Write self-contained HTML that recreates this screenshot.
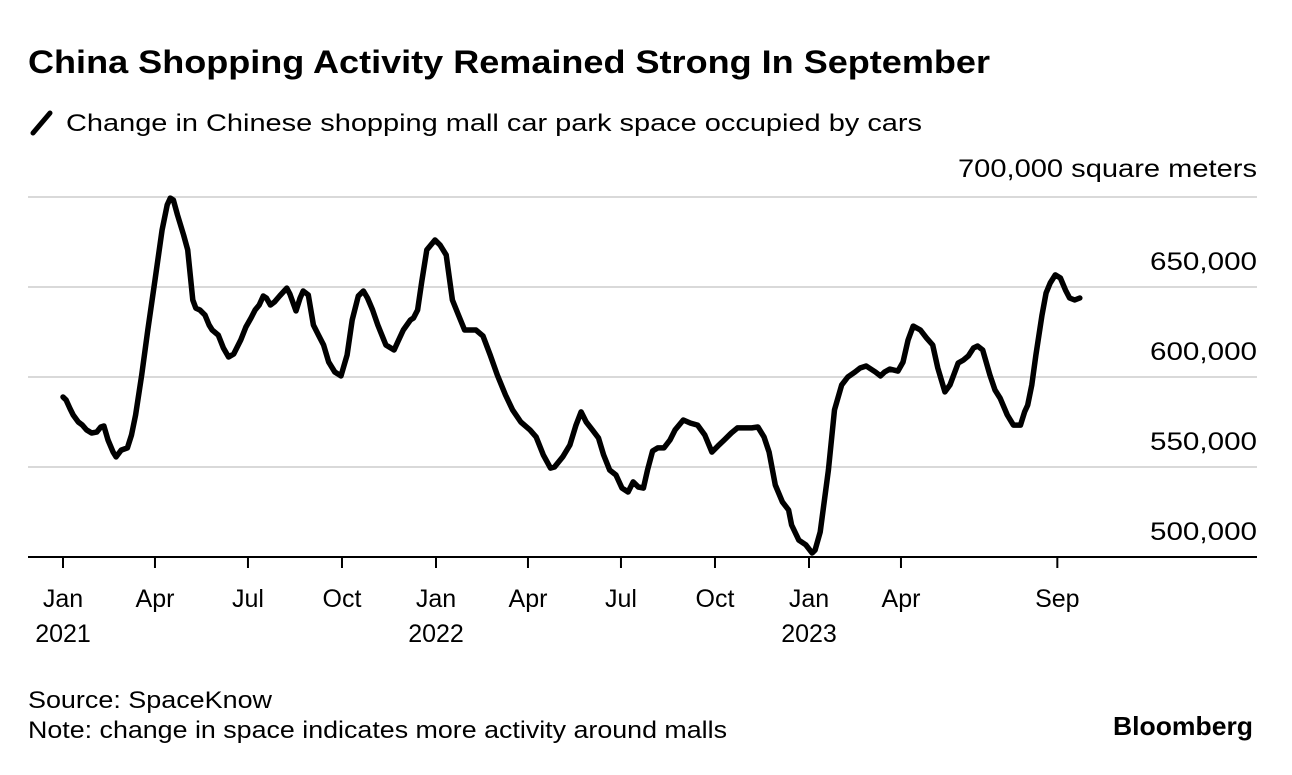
<!DOCTYPE html>
<html><head><meta charset="utf-8"><style>
body{margin:0;background:#fff;width:1292px;height:770px;overflow:hidden;font-family:"Liberation Sans",sans-serif;color:#000}
</style></head><body>
<svg width="1292" height="770" font-family="Liberation Sans, sans-serif">
<text x="28" y="73" font-size="32" font-weight="bold" textLength="962" lengthAdjust="spacingAndGlyphs">China Shopping Activity Remained Strong In September</text>
<line x1="33" y1="133" x2="50" y2="113" stroke="#000" stroke-width="5" stroke-linecap="round"/>
<text x="66" y="131" font-size="24" textLength="856" lengthAdjust="spacingAndGlyphs">Change in Chinese shopping mall car park space occupied by cars</text>
<g id="grid"></g><g id="axis"></g>
<path id="line" fill="none" stroke="#000" stroke-width="5.5" stroke-linejoin="round" stroke-linecap="round"/>
<text x="28" y="708" font-size="24" textLength="244" lengthAdjust="spacingAndGlyphs">Source: SpaceKnow</text>
<text x="28" y="738" font-size="24" textLength="699" lengthAdjust="spacingAndGlyphs">Note: change in space indicates more activity around malls</text>
<text x="1113" y="735" font-size="26" font-weight="bold" textLength="140" lengthAdjust="spacingAndGlyphs">Bloomberg</text>
</svg>
<script>
const days=[0,3,7,10,15,19,23,28,33,37,40,44,49,52,57,63,67,71,77,83,90,97,102,105,108,112,118,122,127,130,134,139,143,146,152,157,162,167,174,179,184,188,192,196,199,203,207,212,219,222,228,232,235,240,245,250,255,260,266,272,278,283,289,294,298,303,308,316,324,328,333,340,343,347,351,356,364,369,375,381,387,393,404,411,418,425,433,440,448,457,463,470,477,481,489,496,502,507,512,518,524,529,535,541,547,553,558,563,568,572,577,582,588,594,599,607,614,621,628,635,641,647,654,660,667,674,680,686,691,697,704,710,713,720,727,733,736,741,749,755,762,768,775,780,786,795,800,804,809,817,822,827,832,839,845,851,856,863,868,876,881,886,891,895,900,907,912,917,924,930,937,941,944,948,952,958,962,966,971,976,981,985,990,995];
const values=[588.9,587.2,582.2,578.9,575,573.3,570.6,568.9,569.4,572.2,572.8,565,558.3,555.6,559.4,560.6,567.8,578.9,601.1,626.1,653.9,681.7,695.6,699.4,698.3,690,678.9,670.6,642.8,638.3,637.2,634.4,628.9,626.1,623.3,616.1,611.1,612.8,620.6,627.8,632.8,637.2,640,645,643.9,640,641.7,645,649.4,646.1,636.7,643.9,647.8,645.6,628.9,623.3,617.8,608.3,602.8,600.6,612.2,631.7,645,647.8,643.9,637.2,628.9,617.8,615,620,626.1,631.7,632.8,637.2,652.8,670.6,676.1,673.3,667.8,642.8,634.4,626.1,626.1,622.8,612.2,601.1,590,581.7,575,570.6,566.7,556.7,549.4,550,555.6,562.2,573.3,580.6,575,570.6,566.1,556.7,548.3,545.6,538.3,536.1,541.7,538.9,538.3,548.3,558.9,560.6,560.6,565,570.6,576.1,574.4,573.3,567.8,558.3,561.7,565,568.9,571.7,571.7,571.7,572.2,566.7,558.3,540,530.6,526.1,517.8,509.4,506.7,502.2,503.9,513.9,548.3,581.7,595.6,600,602.8,605,606.1,602.8,600.6,602.8,604.4,603.3,608.3,620.6,628.3,626.1,621.7,617.8,605,591.7,595.6,607.8,609.4,611.7,616.1,617.2,615,601.1,592.8,588.3,578.9,573.3,573.3,580.6,584.4,595.6,612.2,634.4,646.7,652.2,656.7,655,648.3,643.9,642.8,643.9];
const yTicks=[700,650,600,550,500];
const yTickLabels=["700,000 square meters","650,000","600,000","550,000","500,000"];
const yLabelWidths=[299,107,107,107,107];
const xTickDays=[0,90,181,273,365,455,546,638,730,820,973];
const xTickLabels=["Jan","Apr","Jul","Oct","Jan","Apr","Jul","Oct","Jan","Apr","Sep"];
const xYearLabels=["2021","","","","2022","","","","2023","",""];
const X=d=>63+d*(746/730);
const Y=v=>197+(700-v)*90/50;
const NS="http://www.w3.org/2000/svg";
const grid=document.getElementById('grid'),axis=document.getElementById('axis');
function mk(tag,attrs,parent,txt){const e=document.createElementNS(NS,tag);for(const k in attrs)e.setAttribute(k,attrs[k]);if(txt!==undefined)e.textContent=txt;parent.appendChild(e);return e;}
yTicks.forEach((v,i)=>{
  if(v>500){const l=mk('line',{x1:28,x2:1257,y1:Y(v),y2:Y(v),stroke:'#d9d9d9','stroke-width':2},grid);
  
  }
  const t=mk('text',{x:1257,y:Y(v)-(i==0?20:17),'font-size':25,'text-anchor':'end',textLength:yLabelWidths[i],lengthAdjust:'spacingAndGlyphs'},grid,yTickLabels[i]);
  
  
});
const ax=mk('line',{x1:28,x2:1257,y1:Y(500),y2:Y(500),stroke:'#000','stroke-width':2},axis);


xTickDays.forEach((d,i)=>{
  const tk=mk('line',{x1:X(d),x2:X(d),y1:Y(500),y2:Y(500)+11,stroke:'#000','stroke-width':2},axis);
  
  
  const t=mk('text',{x:X(d),y:607,'font-size':25,'text-anchor':'middle'},axis,xTickLabels[i]);
  
  
  if(xYearLabels[i]){const y=mk('text',{x:X(d),y:642,'font-size':25,'text-anchor':'middle'},axis,xYearLabels[i]);
  
  }
});
document.getElementById('line').setAttribute('d',days.map((d,i)=>(i?'L':'M')+X(d).toFixed(1)+','+Y(values[i]).toFixed(1)).join(''));
</script>
</body></html>
